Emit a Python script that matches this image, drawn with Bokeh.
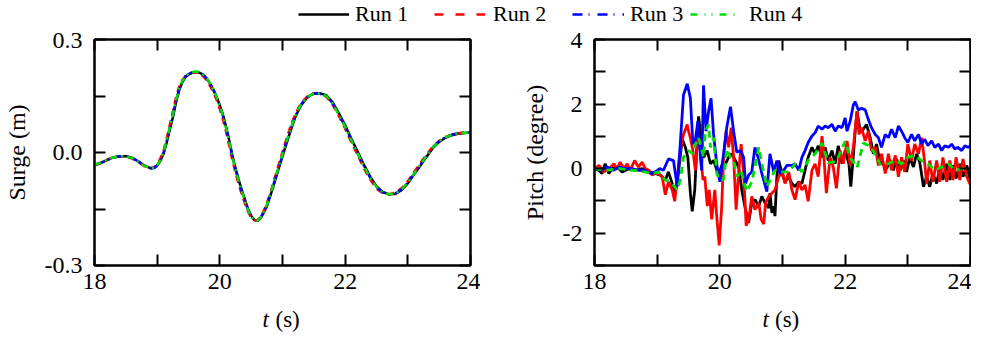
from bokeh.plotting import figure
from bokeh.models import (Range1d, FixedTicker, PrintfTickFormatter, LinearAxis,
                          Legend, LegendItem, Label)
from bokeh.layouts import column, row
from bokeh.embed import file_html
from bokeh.resources import INLINE

FONT = "Liberation Serif"

# ---------------- data ----------------
run_names = ["Run 1", "Run 2", "Run 3", "Run 4"]
run_colors = ["#000000", "#ff0000", "#0000ff", "#00dd00"]

x_ticks = [18, 20, 22, 24]
x_minor = [19, 21, 23]
surge_ticks = [-0.3, 0.0, 0.3]
surge_minor = [-0.15, 0.15]
pitch_ticks = [-2, 0, 2, 4]
pitch_minor = [-3, -1, 1, 3]

surge_t = [18.0, 18.1, 18.2, 18.3, 18.4, 18.5, 18.6, 18.7, 18.8, 18.9,
           18.95, 19.0, 19.05, 19.1, 19.15, 19.2, 19.25, 19.3, 19.35, 19.4,
           19.45, 19.5, 19.55, 19.6, 19.65, 19.7, 19.75, 19.8, 19.85, 19.9,
           19.95, 20.0, 20.05, 20.1, 20.15, 20.2, 20.25, 20.3, 20.35, 20.4,
           20.45, 20.5, 20.55, 20.6, 20.65, 20.7, 20.75, 20.8, 20.85, 20.9,
           20.95, 21.0, 21.05, 21.1, 21.15, 21.2, 21.25, 21.3, 21.35, 21.4,
           21.45, 21.5, 21.55, 21.6,
           21.7, 21.8, 21.9, 22.0, 22.1, 22.2, 22.3, 22.4, 22.5, 22.6,
           22.7, 22.8, 22.9, 23.0, 23.1, 23.2, 23.3, 23.4, 23.5, 23.6,
           23.7, 23.8, 23.9, 24.0]

surge_run1 = [-0.033, -0.028, -0.020, -0.013, -0.010, -0.010, -0.014, -0.024, -0.035, -0.042,
              -0.041, -0.035, -0.022, -0.004, 0.025, 0.060, 0.093, 0.133, 0.165, 0.186,
              0.200, 0.207, 0.211, 0.213, 0.213, 0.210, 0.204, 0.194, 0.181, 0.166,
              0.147, 0.125, 0.100, 0.068, 0.032, -0.008, -0.042, -0.072, -0.100, -0.125,
              -0.150, -0.168, -0.179, -0.181, -0.174, -0.160, -0.143, -0.118, -0.092, -0.064,
              -0.037, -0.010, 0.017, 0.043, 0.068, 0.092, 0.110, 0.126, 0.137, 0.146,
              0.152, 0.156, 0.157, 0.157,
              0.152, 0.133, 0.104, 0.072, 0.036, 0.002, -0.033, -0.064, -0.090, -0.105,
              -0.111, -0.110, -0.100, -0.082, -0.058, -0.035, -0.011, 0.012, 0.028, 0.039,
              0.046, 0.050, 0.052, 0.053]

surge_run2 = [-0.034, -0.028, -0.019, -0.012, -0.010, -0.011, -0.016, -0.026, -0.037, -0.042,
              -0.040, -0.032, -0.016, 0.004, 0.036, 0.072, 0.108, 0.145, 0.174, 0.192,
              0.203, 0.209, 0.212, 0.213, 0.211, 0.207, 0.200, 0.189, 0.175, 0.159,
              0.139, 0.115, 0.088, 0.055, 0.018, -0.020, -0.054, -0.084, -0.111, -0.135,
              -0.157, -0.172, -0.180, -0.180, -0.171, -0.155, -0.135, -0.110, -0.083, -0.054,
              -0.026, 0.002, 0.029, 0.055, 0.079, 0.100, 0.117, 0.131, 0.141, 0.149,
              0.154, 0.157, 0.157, 0.155,
              0.148, 0.127, 0.097, 0.063, 0.027, -0.008, -0.042, -0.072, -0.096, -0.108,
              -0.111, -0.107, -0.095, -0.076, -0.052, -0.028, -0.005, 0.016, 0.031, 0.041,
              0.047, 0.051, 0.053, 0.053]

surge_run3 = [-0.033, -0.027, -0.020, -0.013, -0.010, -0.010, -0.014, -0.024, -0.035, -0.041,
              -0.041, -0.034, -0.021, -0.002, 0.028, 0.063, 0.097, 0.136, 0.167, 0.188,
              0.201, 0.208, 0.212, 0.214, 0.214, 0.211, 0.204, 0.194, 0.181, 0.165,
              0.146, 0.123, 0.097, 0.065, 0.029, -0.011, -0.045, -0.075, -0.103, -0.128,
              -0.152, -0.170, -0.180, -0.181, -0.173, -0.158, -0.140, -0.115, -0.089, -0.061,
              -0.034, -0.007, 0.020, 0.046, 0.071, 0.094, 0.112, 0.128, 0.139, 0.148,
              0.153, 0.156, 0.157, 0.156,
              0.150, 0.131, 0.101, 0.069, 0.033, -0.002, -0.036, -0.067, -0.092, -0.106,
              -0.111, -0.109, -0.098, -0.080, -0.056, -0.032, -0.009, 0.014, 0.030, 0.040,
              0.047, 0.051, 0.052, 0.053]

surge_run4 = [-0.033, -0.027, -0.019, -0.013, -0.010, -0.010, -0.015, -0.025, -0.036, -0.042,
              -0.041, -0.034, -0.020, 0.000, 0.030, 0.066, 0.100, 0.138, 0.169, 0.189,
              0.202, 0.209, 0.213, 0.215, 0.214, 0.211, 0.205, 0.195, 0.182, 0.166,
              0.146, 0.123, 0.097, 0.064, 0.028, -0.012, -0.046, -0.076, -0.104, -0.129,
              -0.153, -0.170, -0.180, -0.181, -0.173, -0.158, -0.139, -0.114, -0.087, -0.059,
              -0.032, -0.005, 0.022, 0.048, 0.072, 0.095, 0.113, 0.128, 0.139, 0.148,
              0.153, 0.156, 0.157, 0.156,
              0.150, 0.130, 0.100, 0.068, 0.032, -0.003, -0.037, -0.067, -0.092, -0.106,
              -0.111, -0.109, -0.098, -0.080, -0.056, -0.032, -0.009, 0.013, 0.030, 0.040,
              0.047, 0.051, 0.052, 0.053]

pitch_t1 = [18.00, 18.07, 18.12, 18.17, 18.23, 18.28, 18.36, 18.44, 18.55, 18.65, 18.76, 18.87,
            18.97, 19.05, 19.13, 19.18, 19.24, 19.29, 19.34,
            19.40, 19.45, 19.49, 19.53, 19.56, 19.60, 19.64, 19.66, 19.69,
            19.74, 19.80, 19.85, 19.90, 19.98,
            20.03, 20.09, 20.14, 20.19, 20.25, 20.30, 20.35,
            20.41, 20.46, 20.51, 20.56, 20.62, 20.67, 20.72, 20.78, 20.80, 20.83, 20.86, 20.88, 20.91, 20.94,
            21.00, 21.04, 21.10, 21.15, 21.20, 21.26, 21.31, 21.36, 21.41, 21.47,
            21.52, 21.57, 21.63, 21.68, 21.73, 21.79, 21.84, 21.89, 21.95,
            22.00, 22.06, 22.09, 22.12, 22.16, 22.19, 22.24, 22.29, 22.34, 22.40,
            22.45, 22.50, 22.55, 22.60, 22.66, 22.72, 22.77, 22.82, 22.88, 22.93, 22.98,
            23.03, 23.09, 23.14, 23.19, 23.25, 23.30, 23.35, 23.40, 23.46,
            23.51, 23.56, 23.62, 23.67, 23.72, 23.77, 23.83, 23.88, 23.94, 24.00]
pitch_run1 = [0.0, -0.05, -0.15, 0.15, -0.15, 0.0, 0.05, -0.1, 0.0, -0.05, 0.0, -0.1,
              -0.15, -0.2, -0.35, -0.1, -0.46, -0.76, -0.1,
              0.91, 0.66, 0.35, -0.76, -1.32, -0.66, 0.96, 1.62, 1.16,
              0.35, 0.56, 0.15, 0.25, -0.2,
              0.1, 0.15, 0.35, 0.46, 0.25, 0.05, -0.66,
              -1.27, -1.67, -1.06, -0.96, -1.16, -0.86, -1.06, -1.22, -0.76, -1.37, -1.16, -1.47, -0.25, 0.25,
              -0.2, -0.41, -0.25, -0.46, -0.56, -0.41, -0.46, -0.05, 0.35, 0.66,
              0.46, 0.71, 0.35, 0.66, 0.25, 0.56, 0.15, 0.71, 0.15,
              0.56, 0.15, -0.56, 0.15, 1.16, 1.77, 1.16, 1.22, 1.37, 0.96,
              0.46, 0.76, 0.25, 0.15, 0.0, 0.25, -0.05, 0.3, -0.05, 0.25, -0.1,
              0.35, 0.05, 0.46, 0.2, -0.56, -0.25, -0.56, -0.15, -0.46,
              0.05, -0.35, 0.15, -0.35, 0.1, -0.3, 0.15, -0.25, 0.1, -0.4]

pitch_t2 = [18.00, 18.07, 18.15, 18.23, 18.31, 18.36, 18.41, 18.47, 18.52, 18.57, 18.64, 18.70,
            18.76, 18.81, 18.87, 18.92, 18.97,
            19.02, 19.08, 19.13, 19.18, 19.24, 19.28, 19.32, 19.37, 19.42, 19.48,
            19.50, 19.53, 19.57, 19.61, 19.65, 19.69, 19.73, 19.76, 19.80, 19.83,
            19.87, 19.92, 19.95, 19.99, 20.03, 20.06, 20.10, 20.14, 20.18, 20.22,
            20.26, 20.30, 20.34, 20.38, 20.42, 20.46, 20.51, 20.56, 20.62, 20.66,
            20.70, 20.73, 20.78, 20.83, 20.88, 20.94, 21.00, 21.04, 21.10, 21.15,
            21.20, 21.26, 21.31, 21.36, 21.41, 21.47, 21.52, 21.57, 21.63, 21.65,
            21.70, 21.76, 21.81, 21.86, 21.92, 21.97, 22.03, 22.08, 22.13, 22.19,
            22.22, 22.26, 22.32, 22.37, 22.42, 22.48, 22.53, 22.58, 22.64, 22.69,
            22.74, 22.80, 22.85, 22.90, 22.95, 23.00, 23.06, 23.11, 23.17, 23.22,
            23.26, 23.30, 23.35, 23.40, 23.46, 23.51, 23.56, 23.62, 23.67, 23.72,
            23.77, 23.83, 23.88, 23.94, 24.00]
pitch_run2 = [0.0, 0.1, -0.1, 0.0, 0.15, 0.0, 0.2, 0.0, 0.15, -0.05, 0.25, 0.05,
              0.2, 0.0, -0.05, -0.2, -0.15,
              -0.15, -0.25, -0.81, -0.41, -0.66, -1.01, -0.25, 0.56, 1.06, 1.37,
              1.16, 0.96, 0.56, -0.05, 1.06, 0.56, -0.35, -0.25, -1.16, -0.66,
              -1.57, -0.66, -1.47, -2.38, -1.16, 0.35, 1.16, 0.66, 1.27, 0.35,
              -1.27, -0.15, 0.76, -0.15, -1.77, -1.57, -0.86, -1.27, -1.06, -1.57,
              -1.72, -1.06, -0.86, -0.76, -0.66, -0.25, -0.1, -0.46, -0.1, -0.66,
              -0.96, -0.41, -0.66, -0.51, -1.01, -0.05, 0.15, -0.25, 1.01, 0.66,
              -0.76, 0.35, 0.05, -0.61, 0.56, 0.15, 0.86, 0.1, 0.66, 1.77,
              1.06, 1.27, 0.86, 1.16, 0.56, 0.66, 0.1, 0.46, -0.15, 0.46,
              -0.05, 0.41, -0.25, 0.35, -0.1, 0.76, 0.25, 0.76, 0.46, 0.96,
              0.35, -0.46, 0.25, -0.41, 0.25, -0.41, 0.35, -0.41, 0.25, -0.35,
              0.35, -0.35, 0.3, -0.25, -0.51]

pitch_t3 = [18.00, 18.10, 18.20, 18.30, 18.40, 18.50, 18.60, 18.70, 18.80, 18.90,
            18.97, 19.04, 19.10, 19.18, 19.26, 19.32, 19.37, 19.42, 19.48, 19.53,
            19.57, 19.61, 19.65, 19.69, 19.71, 19.74, 19.78, 19.82, 19.86, 19.90,
            19.95, 20.00, 20.06, 20.11, 20.17, 20.22, 20.27, 20.33, 20.38, 20.41,
            20.46, 20.51, 20.56, 20.61, 20.67, 20.75, 20.80, 20.86, 20.91, 20.96,
            21.02, 21.07, 21.15, 21.20, 21.26, 21.31, 21.36, 21.41, 21.47, 21.52,
            21.57, 21.63, 21.68, 21.73, 21.79, 21.84, 21.89, 21.95, 22.00, 22.03,
            22.08, 22.13, 22.16, 22.21, 22.26, 22.32, 22.37, 22.42, 22.48, 22.53,
            22.58, 22.64, 22.69, 22.74, 22.80, 22.85, 22.90, 22.95, 23.00, 23.06,
            23.11, 23.17, 23.22, 23.27, 23.32, 23.38, 23.43, 23.49, 23.54, 23.59,
            23.65, 23.70, 23.75, 23.80, 23.86, 23.91, 23.96, 24.00]
pitch_run3 = [0.0, -0.05, 0.05, -0.05, 0.05, 0.0, 0.0, -0.05, -0.05, -0.15,
              -0.1, 0.0, -0.05, 0.3, 0.25, -0.55, 0.81, 2.28, 2.63, 2.18,
              0.76, 0.91, 1.47, 0.35, -0.05, 2.58, 1.16, 1.77, 2.18, 1.06,
              0.15, -0.41, 0.46, 1.27, 1.92, 1.16, 0.51, 0.56, 0.35, -0.46,
              -0.2, -0.1, 0.66, 0.35, -0.15, -0.71, 0.46, -0.1, 0.25, -0.15,
              -0.05, 0.1, 0.1, 0.15, -0.05, 0.35, 0.56, 0.81, 1.01, 1.11,
              1.32, 1.22, 1.32, 1.27, 1.37, 1.16, 1.32, 1.27, 1.57, 1.16,
              1.47, 1.97, 2.07, 1.82, 1.87, 1.82, 1.52, 1.27, 1.06, 0.96,
              0.66, 1.06, 0.96, 1.22, 0.96, 1.32, 1.16, 0.96, 0.81, 1.06,
              0.86, 1.06, 0.76, 0.91, 0.71, 0.86, 0.66, 0.76, 0.56, 0.71,
              0.66, 0.76, 0.61, 0.66, 0.56, 0.71, 0.66, 0.71]

pitch_t4 = [18.00, 18.20, 18.40, 18.60, 18.80, 18.92, 19.02, 19.13, 19.21, 19.32,
            19.37, 19.42, 19.50, 19.57, 19.61, 19.66, 19.74, 19.77, 19.82, 19.85,
            19.90, 19.95, 20.00, 20.06, 20.11, 20.17, 20.22, 20.27, 20.33, 20.38,
            20.43, 20.51, 20.56, 20.62, 20.67, 20.75, 20.83, 20.88, 21.00, 21.10,
            21.20, 21.31, 21.41, 21.52, 21.63, 21.73, 21.86, 22.00, 22.08, 22.19,
            22.29, 22.41, 22.56, 22.69, 22.80, 22.90, 23.00, 23.11, 23.22, 23.32,
            23.43, 23.54, 23.65, 23.75, 23.86, 24.00]
pitch_run4 = [0.0, -0.05, 0.0, -0.05, -0.1, -0.15, -0.1, -0.35, -0.41, -0.66,
              -0.35, 0.35, 0.56, 0.46, 0.76, 0.96, 0.35, 1.16, 1.37, 0.66,
              0.96, -0.15, -0.35, -0.35, 0.61, 0.35, 0.25, -0.25, -0.05, -0.35,
              -0.71, -0.41, 0.05, 0.66, 0.15, -0.56, -0.25, -0.05, -0.1, -0.1,
              0.15, -0.1, 0.25, 0.46, 0.79, 0.18, 0.23, 0.85, 0.34, 0.03,
              0.79, 0.69, 0.13, 0.15, 0.25, 0.15, 0.35, 0.41, 0.25, 0.15,
              -0.05, 0.05, 0.15, -0.05, 0.0, 0.0]

# ---------------- styling helpers ----------------
TICK_LEN = 11
TICK_FONT_SIZE = "24px"
LABEL_FONT_SIZE = "24px"
TITLE_FONT_SIZE = "23px"
TOTAL_W = 969
FRAME_W = 376
FRAME_H = 226


def style_axis(ax, ticks, minor, fmt=None, show_labels=True, standoff=8):
    ax.ticker = FixedTicker(ticks=ticks, minor_ticks=minor)
    if fmt is not None:
        ax.formatter = PrintfTickFormatter(format=fmt)
    ax.axis_line_width = 2
    ax.axis_line_color = "black"
    ax.major_tick_in = TICK_LEN
    ax.major_tick_out = 0
    ax.minor_tick_in = TICK_LEN
    ax.minor_tick_out = 0
    ax.major_tick_line_width = 2
    ax.minor_tick_line_width = 2
    ax.major_tick_line_color = "black"
    ax.minor_tick_line_color = "black"
    if show_labels:
        ax.major_label_text_font = FONT
        ax.major_label_text_font_size = TICK_FONT_SIZE
        ax.major_label_text_color = "black"
        ax.major_label_standoff = standoff
    else:
        ax.major_label_text_font_size = "1px"
        ax.major_label_text_color = None
        ax.major_label_standoff = 0


def make_panel(y0, y1, yticks, yminor, yfmt, ylabel, left, right, top, bottom, ylabel_standoff):
    p = figure(frame_width=FRAME_W, frame_height=FRAME_H,
               x_range=Range1d(18, 24), y_range=Range1d(y0, y1),
               output_backend="svg", toolbar_location=None,
               min_border_left=left, min_border_right=right,
               min_border_top=top, min_border_bottom=bottom)
    p.xgrid.visible = False
    p.ygrid.visible = False
    p.outline_line_color = "black"
    p.outline_line_width = 2

    style_axis(p.xaxis[0], x_ticks, x_minor, standoff=8)
    style_axis(p.yaxis[0], yticks, yminor, fmt=yfmt, standoff=12)
    p.yaxis[0].axis_label = ylabel
    p.yaxis[0].axis_label_text_font = FONT
    p.yaxis[0].axis_label_text_font_size = LABEL_FONT_SIZE
    p.yaxis[0].axis_label_text_font_style = "normal"
    p.yaxis[0].axis_label_text_color = "black"
    p.yaxis[0].axis_label_standoff = ylabel_standoff

    top_ax = LinearAxis()
    style_axis(top_ax, x_ticks, x_minor, show_labels=False)
    p.add_layout(top_ax, "above")
    right_ax = LinearAxis()
    style_axis(right_ax, yticks, yminor, show_labels=False)
    p.add_layout(right_ax, "right")
    return p


# ---------------- left panel: surge ----------------
p1 = make_panel(-0.3, 0.3, surge_ticks, surge_minor, "%.1f", "Surge (m)",
                left=92, right=10, top=7, bottom=40, ylabel_standoff=12)
surge_runs = [surge_run1, surge_run2, surge_run3, surge_run4]
surge_dash = ["solid", "7 5", "10 4 2 4", "7 4 2 4"]
for vals, col, dash in zip(surge_runs, run_colors, surge_dash):
    p1.line(surge_t, vals, line_color=col, line_width=2.5, line_dash=dash)

# ---------------- right panel: pitch ----------------
p2 = make_panel(-3, 4, pitch_ticks, pitch_minor, "%d", "Pitch (degree)",
                left=114, right=1, top=7, bottom=40, ylabel_standoff=12)
pitch_ts = [pitch_t1, pitch_t2, pitch_t3, pitch_t4]
pitch_runs = [pitch_run1, pitch_run2, pitch_run3, pitch_run4]
pitch_dash = ["solid", "solid", "solid", "7 5"]
for ts, vals, col, dash in zip(pitch_ts, pitch_runs, run_colors, pitch_dash):
    p2.line(ts, vals, line_color=col, line_width=2.8, line_dash=dash)


def strip(height):
    f = figure(width=TOTAL_W, height=height, x_range=Range1d(0, 1), y_range=Range1d(10, 11),
               x_axis_type=None, y_axis_type=None,
               output_backend="svg", toolbar_location=None,
               min_border_left=0, min_border_right=0, min_border_top=0, min_border_bottom=0)
    f.grid.visible = False
    f.outline_line_color = None
    return f


# ---------------- legend strip (top) ----------------
lf = strip(32)
legend_dash = ["solid", "9 12", "10 6 1 8", "7 7 1 6 1 7"]
legend_x = [298, 434, 572, 690]
legend_glyph_w = [51, 51, 52, 47]
legend_standoff = [6, 8, 6, 12]
for name, col, dash, lx, gw, so, ts, vals in zip(run_names, run_colors, legend_dash,
                                                 legend_x, legend_glyph_w, legend_standoff,
                                                 pitch_ts, pitch_runs):
    # legend sample line (its data lie outside this strip's range, only the key is shown)
    r = lf.line(x=ts, y=vals, line_color=col, line_width=2.5, line_dash=dash)
    leg = Legend(items=[LegendItem(label=name, renderers=[r])],
                 location=(lx, 5), orientation="horizontal",
                 glyph_width=gw, glyph_height=26, label_height=26, label_standoff=so,
                 padding=0, margin=0, spacing=0,
                 border_line_color=None, background_fill_alpha=0,
                 label_text_font=FONT, label_text_font_size="22px",
                 label_text_color="black")
    lf.add_layout(leg)

# ---------------- x-axis title strip (bottom) ----------------
XF_H = 28
xf = strip(XF_H)
for tx, sx in [(262, 275), (762, 774.5)]:
    xf.add_layout(Label(x=tx, y=XF_H / 2, x_units="screen", y_units="screen", text="t",
                        text_font=FONT, text_font_size=TITLE_FONT_SIZE, text_font_style="italic",
                        text_baseline="middle", text_align="left", text_color="black"))
    xf.add_layout(Label(x=sx, y=XF_H / 2, x_units="screen", y_units="screen", text="(s)",
                        text_font=FONT, text_font_size=TITLE_FONT_SIZE, text_font_style="normal",
                        text_baseline="middle", text_align="left", text_color="black"))

layout = column(lf, row(p1, p2), xf)
open("out.html", "w").write(file_html(layout, INLINE))
